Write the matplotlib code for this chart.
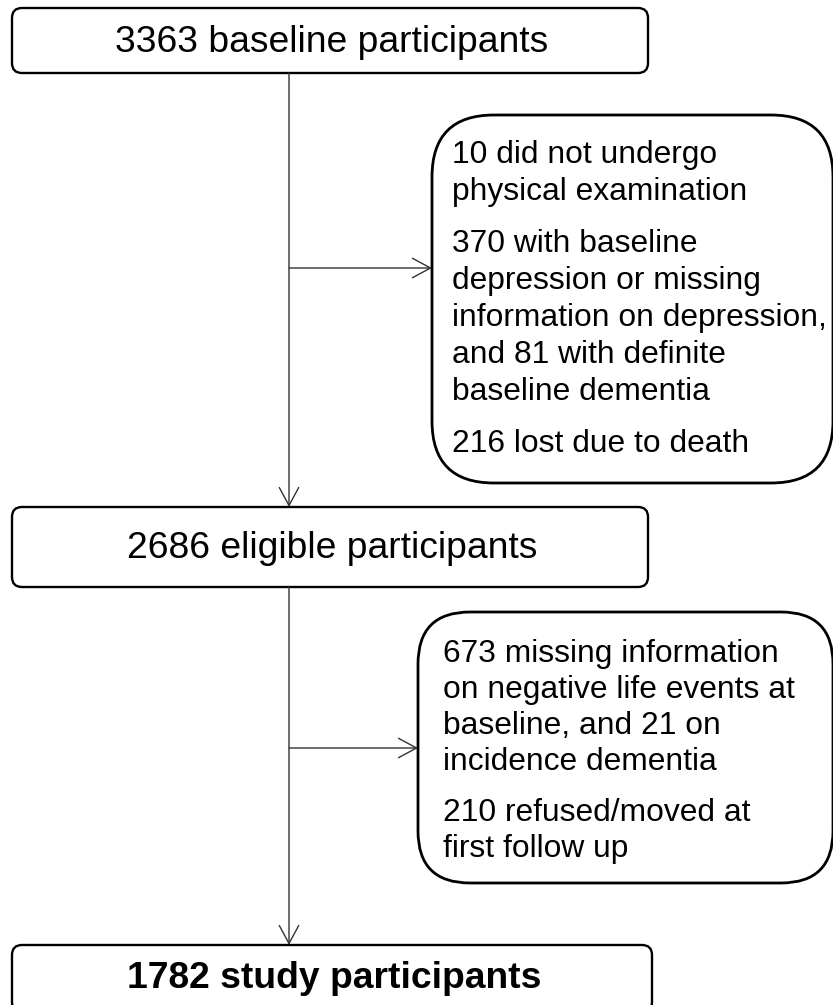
import matplotlib
matplotlib.use('Agg')
import matplotlib.pyplot as plt
from matplotlib.patches import FancyBboxPatch, FancyArrowPatch

# flow chart contents
main_labels = ["3363 baseline participants",
               "2686 eligible participants",
               "1782 study participants"]

excluded_1 = [["10 did not undergo", "physical examination"],
              ["370 with baseline", "depression or missing",
               "information on depression,", "and 81 with definite",
               "baseline dementia"],
              ["216 lost due to death"]]

excluded_2 = [["673 missing information", "on negative life events at",
               "baseline, and 21 on", "incidence dementia"],
              ["210 refused/moved at", "first follow up"]]

plt.rcParams['font.family'] = ['Liberation Sans', 'DejaVu Sans']

W, H = 833, 1005
fig = plt.figure(figsize=(W / 100, H / 100), dpi=100)
ax = fig.add_axes([0, 0, 1, 1])
ax.set_xlim(0, W)
ax.set_ylim(H, 0)
ax.axis('off')

# main boxes: (left, top, right, bottom, text baseline)
main_boxes = [(12, 8, 648, 73, 52),
              (12, 507, 648, 587, 558),
              (12, 945, 652, 1012, 988)]

for i, (x0, y0, x1, y1, base) in enumerate(main_boxes):
    box = FancyBboxPatch((x0, y0), x1 - x0, y1 - y0,
                         boxstyle="round,pad=0,rounding_size=10",
                         fc='white', ec='black', lw=1.7)
    ax.add_patch(box)
    ax.text((x0 + x1) / 2 + 2, base, main_labels[i], ha='center', va='baseline',
            fontsize=26.8, fontweight='bold' if i == 2 else 'normal')

# side boxes: (left, top, right, bottom, radius, first baseline, line step)
side_boxes = [(432, 115, 833, 483, 62, 163, 37, excluded_1, 452),
              (418, 612, 833, 883, 52, 662, 36, excluded_2, 443)]

for x0, y0, x1, y1, r, base, step, paras, tx in side_boxes:
    box = FancyBboxPatch((x0, y0), x1 - x0, y1 - y0,
                         boxstyle="round,pad=0,rounding_size=%d" % r,
                         fc='white', ec='black', lw=2.0)
    ax.add_patch(box)
    y = base
    for p in paras:
        for line in p:
            ax.text(tx, y, line, ha='left', va='baseline', fontsize=22.9)
            y += step
        y += 15

# connectors
cx = 289
line_col = '#333333'


def arrow(p0, p1):
    a = FancyArrowPatch(p0, p1, arrowstyle='->,head_length=13,head_width=7',
                        mutation_scale=1, shrinkA=0, shrinkB=0,
                        color=line_col, lw=1.0)
    ax.add_patch(a)


arrow((cx, 73), (cx, 507))
arrow((cx, 268), (432, 268))
arrow((cx, 587), (cx, 945))
arrow((cx, 748), (418, 748))

fig.savefig('out.png', dpi=100)
